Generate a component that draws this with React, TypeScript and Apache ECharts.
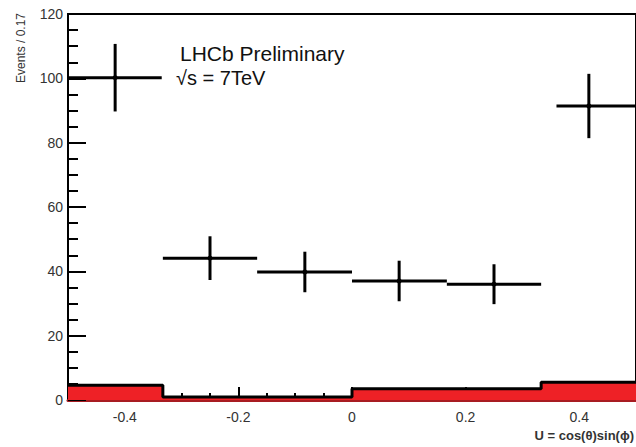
import React, { useEffect, useRef } from "react";
import * as echarts from "echarts";

// Background histogram (red), bin edges and contents
const binEdges = [-0.5, -0.333, -0.167, 0, 0.167, 0.333, 0.5];
const bkgValues = [4.6, 0.95, 0.95, 3.5, 3.5, 5.5];

// Data points with errors
const pointX = [-0.417, -0.25, -0.083, 0.083, 0.25, 0.417];
const pointY = [100.2, 44.1, 39.8, 37.0, 36.0, 91.4];
const pointErr = [10.5, 6.8, 6.3, 6.3, 6.2, 10.0];
const xLow = [-0.5, -0.333, -0.167, 0, 0.167, 0.36];
const xHigh = [-0.335, -0.167, 0, 0.167, 0.333, 0.5];

// Axis ticks
const xMajorTicks = [-0.4, -0.2, 0, 0.2, 0.4];
const xMinorTicks = [-0.45, -0.35, -0.3, -0.25, -0.15, -0.1, -0.05, 0.05, 0.1, 0.15, 0.25, 0.3, 0.35, 0.45];

const FONT = "Liberation Sans, Arial, sans-serif";

export default function App() {
  const ref = useRef<HTMLDivElement>(null);

  useEffect(() => {
    if (!ref.current) return;
    const chart = echarts.init(ref.current, null, { renderer: "svg" });

    const histData: number[][] = binEdges.map((e, i) => [e, bkgValues[Math.min(i, bkgValues.length - 1)]]);
    const pointData = pointX.map((x, i) => [x, pointY[i], pointErr[i], xLow[i], xHigh[i]]);

    chart.setOption({
      animation: false,
      grid: {
        left: 68,
        right: -4,
        top: 14,
        bottom: 47,
        show: true,
        borderColor: "#000",
        borderWidth: 2,
        backgroundColor: "transparent",
      },
      xAxis: [
        {
          type: "value",
          min: -0.5,
          max: 0.5,
          position: "bottom",
          axisLine: { show: true, onZero: false, lineStyle: { color: "#a81c22", width: 3 } },
          axisTick: {
            show: true,
            inside: true,
            length: 13,
            lineStyle: { color: "#000", width: 2 },
            customValues: xMajorTicks,
          },
          axisLabel: {
            show: true,
            customValues: xMajorTicks,
            margin: 10,
            fontSize: 14,
            color: "#333",
            fontFamily: FONT,
          },
          splitLine: { show: false },
        },
        {
          type: "value",
          min: -0.5,
          max: 0.5,
          position: "bottom",
          offset: 0,
          axisLine: { show: false, onZero: false },
          axisTick: {
            show: true,
            inside: true,
            length: 7,
            lineStyle: { color: "#000", width: 2 },
            customValues: xMinorTicks,
          },
          axisLabel: { show: false },
          splitLine: { show: false },
        },
      ],
      yAxis: {
        type: "value",
        min: 0,
        max: 120,
        interval: 20,
        axisLine: { show: true, onZero: false, lineStyle: { color: "#000", width: 2 } },
        axisTick: { show: true, inside: true, length: 18, lineStyle: { color: "#000", width: 2 } },
        minorTick: { show: true, splitNumber: 4, length: 10, lineStyle: { color: "#000", width: 2 } },
        axisLabel: { margin: 5, fontSize: 14, color: "#333", fontFamily: FONT },
        splitLine: { show: false },
        minorSplitLine: { show: false },
      },
      series: [
        {
          type: "line",
          xAxisIndex: 0,
          step: "end",
          data: histData,
          symbol: "none",
          lineStyle: { color: "#000", width: 3 },
          areaStyle: { color: "#ee2126", opacity: 1, origin: "start" },
          z: 2,
        },
        {
          type: "custom",
          xAxisIndex: 0,
          data: pointData,
          encode: { x: 0, y: 1 },
          z: 3,
          renderItem: (_params: any, api: any) => {
            const x = api.value(0);
            const y = api.value(1);
            const e = api.value(2);
            const lo = api.value(3);
            const hi = api.value(4);
            const c = api.coord([x, y]);
            const top = api.coord([x, y + e]);
            const bot = api.coord([x, y - e]);
            const l = api.coord([lo, y]);
            const r = api.coord([hi, y]);
            return {
              type: "group",
              children: [
                { type: "line", shape: { x1: l[0], y1: c[1], x2: r[0], y2: c[1] }, style: { stroke: "#000", lineWidth: 3 } },
                { type: "line", shape: { x1: c[0], y1: top[1], x2: c[0], y2: bot[1] }, style: { stroke: "#000", lineWidth: 3 } },
                { type: "circle", shape: { cx: c[0], cy: c[1], r: 2.5 }, style: { fill: "#000" } },
              ],
            };
          },
        },
      ],
      graphic: [
        {
          type: "text",
          x: 180,
          y: 53,
          style: { text: "LHCb Preliminary", font: `21px ${FONT}`, fill: "#111", verticalAlign: "middle", align: "left" },
        },
        {
          type: "text",
          x: 176,
          y: 78,
          style: { text: "√s = 7TeV", font: `20px ${FONT}`, fill: "#111", verticalAlign: "middle", align: "left" },
        },
        {
          type: "text",
          x: 21,
          y: 13,
          rotation: Math.PI / 2,
          style: { text: "Events / 0.17", font: `12px ${FONT}`, fill: "#333", verticalAlign: "middle", align: "right" },
        },
        {
          type: "text",
          x: 634,
          y: 435,
          style: { text: "U = cos(θ)sin(ϕ)", font: `bold 13px ${FONT}`, fill: "#333", verticalAlign: "middle", align: "right" },
        },
      ],
    });

    return () => chart.dispose();
  }, []);

  return <div ref={ref} style={{ position: "absolute", left: 0, top: 0, width: 636, height: 447 }} />;
}
